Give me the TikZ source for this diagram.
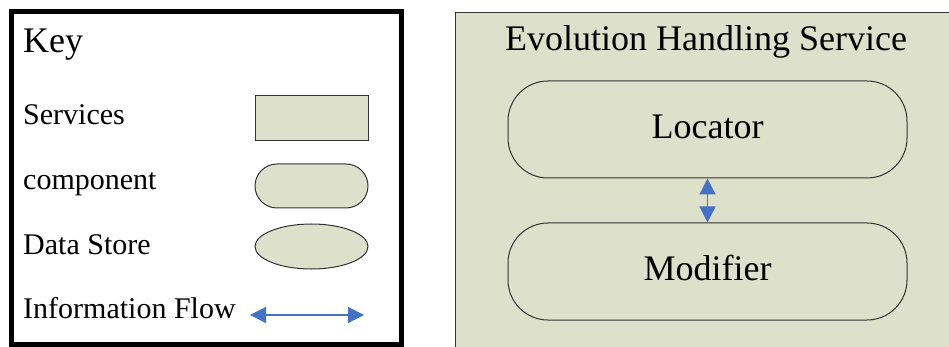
\documentclass[tikz,border=0pt]{standalone}
\usepackage{fontspec}
\setmainfont{Liberation Serif}
\usepackage{xcolor}
\usetikzlibrary{arrows.meta,shapes.geometric}
\definecolor{boxfill}{RGB}{221,224,203}
\definecolor{flowblue}{RGB}{68,114,196}

\begin{document}
\begin{tikzpicture}[x=1pt, y=-1pt,
  keytext/.style={anchor=base west, inner sep=0pt, font=\fontsize{30}{36}\selectfont},
  bigtext/.style={font=\fontsize{36}{43}\selectfont},
  service/.style={draw=black!80, fill=boxfill, line width=1pt, inner sep=0pt},
  comp/.style={service, rounded corners=40pt, minimum width=399pt, minimum height=97pt, text height=24pt, text depth=6pt},
  flow/.style={{Triangle[length=16pt,width=16pt]}-{Triangle[length=16pt,width=16pt]}, draw=flowblue, fill=flowblue, line width=1.2pt}]
  \useasboundingbox (0,0) rectangle (949,347);

  \draw[line width=5pt] (11,12) rectangle (401.5,344);
  \node[keytext, font=\fontsize{36}{43}\selectfont] (key) at (23,53) {Key};
  \node[keytext] (lblserv) at (23,125) {Services};
  \node[keytext] (lblcomp) at (23,190) {component};
  \node[keytext] (lblstore) at (23,254) {Data Store};
  \node[keytext] (lblflow) at (23,318) {Information Flow};
  \node[service, minimum width=113pt, minimum height=45pt] (keyserv) at (311.5,118.5) {};
  \node[service, rounded corners=22pt, minimum width=113pt, minimum height=44pt] (keycomp) at (311.5,186) {};
  \node[service, ellipse, minimum width=113pt, minimum height=45pt] (keystore) at (311.5,246.5) {};
  \coordinate (flowL) at (250,315);
  \coordinate (flowR) at (364,315);
  \draw[flow] (flowL) -- (flowR);

  \node[service, line width=0.8pt, anchor=north west, minimum width=500pt, minimum height=345pt] (ehs) at (455,12) {};
  \node[bigtext, anchor=base] (ehstitle) at (706,51) {Evolution Handling Service};
  \node[comp, bigtext] (locator) at (707.5,129.5) {Locator};
  \node[comp, bigtext] (modifier) at (707.5,271.5) {Modifier};
  \draw[flow] (locator.south) -- (modifier.north);
\end{tikzpicture}
\end{document}
